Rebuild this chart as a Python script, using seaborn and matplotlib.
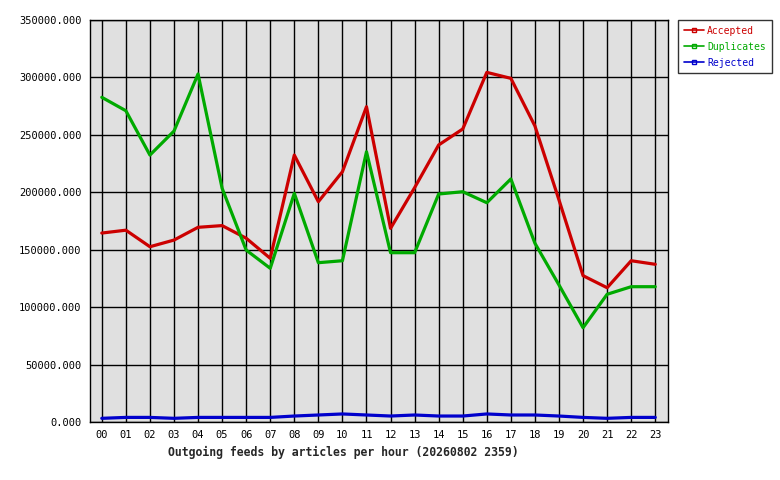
import numpy as np
import pandas as pd
import matplotlib
matplotlib.use("Agg")
import matplotlib.pyplot as plt
from matplotlib.lines import Line2D
import seaborn as sns

hours = [f"{h:02d}" for h in range(24)]
accepted = [164500, 167000, 152600, 158400, 169500, 171000, 160000, 142500,
            232400, 191800, 217900, 274500, 168600, 204000, 241200, 255100,
            304400, 299200, 257700, 193300, 127400, 116900, 140400, 137300]
duplicates = [282700, 271000, 232400, 253300, 303000, 203500, 149700, 133800,
              199100, 138700, 140400, 235300, 147400, 147400, 198500, 200500,
              190900, 211600, 155600, 119300, 82100, 111200, 117800, 117800]
rejected = [3200, 4000, 4000, 3200, 4000, 4000, 4000, 4000,
            5200, 6100, 7000, 6100, 5200, 6100, 5200, 5200,
            7000, 6100, 6100, 5200, 4000, 3200, 4000, 4000]

series = ["Accepted", "Duplicates", "Rejected"]
colors = {"Accepted": "#cc0000", "Duplicates": "#00aa00", "Rejected": "#0000cc"}

df = pd.DataFrame({
    "hour": list(range(24)) * 3,
    "count": accepted + duplicates + rejected,
    "series": sum([[s] * 24 for s in series], []),
})

sns.set_style("white")
plt.rcParams["font.family"] = ["DejaVu Sans Mono"]

fig = plt.figure(figsize=(7.8, 4.8), dpi=100)
ax = fig.add_axes([90 / 780, 58 / 480, 578 / 780, 402 / 480])
ax.set_facecolor("#e0e0e0")

sns.lineplot(data=df, x="hour", y="count", hue="series", palette=colors,
             linewidth=2.3, ax=ax, legend=False, zorder=3)

ax.set_xlim(-0.49, 23.53)
ax.set_ylim(0, 350000)
ax.set_xticks(range(24))
ax.set_xticklabels(hours)
yt = np.arange(0, 350001, 50000)
ax.set_yticks(yt)
ax.set_yticklabels([f"{v:.3f}" for v in yt])
ax.grid(True, color="black", linewidth=1, zorder=1)
ax.set_axisbelow(True)
ax.tick_params(length=0, labelsize=7.5, pad=6, colors="black")
for sp in ax.spines.values():
    sp.set_color("black")
    sp.set_linewidth(1)
ax.set_xlabel("")
ax.set_ylabel("")

fig.text(343 / 780, 1 - 452 / 480, "Outgoing feeds by articles per hour (20260802 2359)",
         ha="center", va="center", fontsize=8.3, fontweight="bold")

handles = [Line2D([0], [0], color=colors[s], linewidth=1.2, marker="s",
                  markersize=3, markerfacecolor="none", markeredgewidth=1)
           for s in series]
leg = fig.legend(handles, series, loc="upper left", bbox_to_anchor=(678 / 780, 1 - 20 / 480),
                 fontsize=7, frameon=True, fancybox=False, handlelength=2.1,
                 handletextpad=0.3, borderpad=0.6, labelspacing=0.6, borderaxespad=0)
leg.get_frame().set_edgecolor("black")
leg.get_frame().set_linewidth(1)
for t, s in zip(leg.get_texts(), series):
    t.set_color(colors[s])

fig.savefig("out.png", dpi=100)
